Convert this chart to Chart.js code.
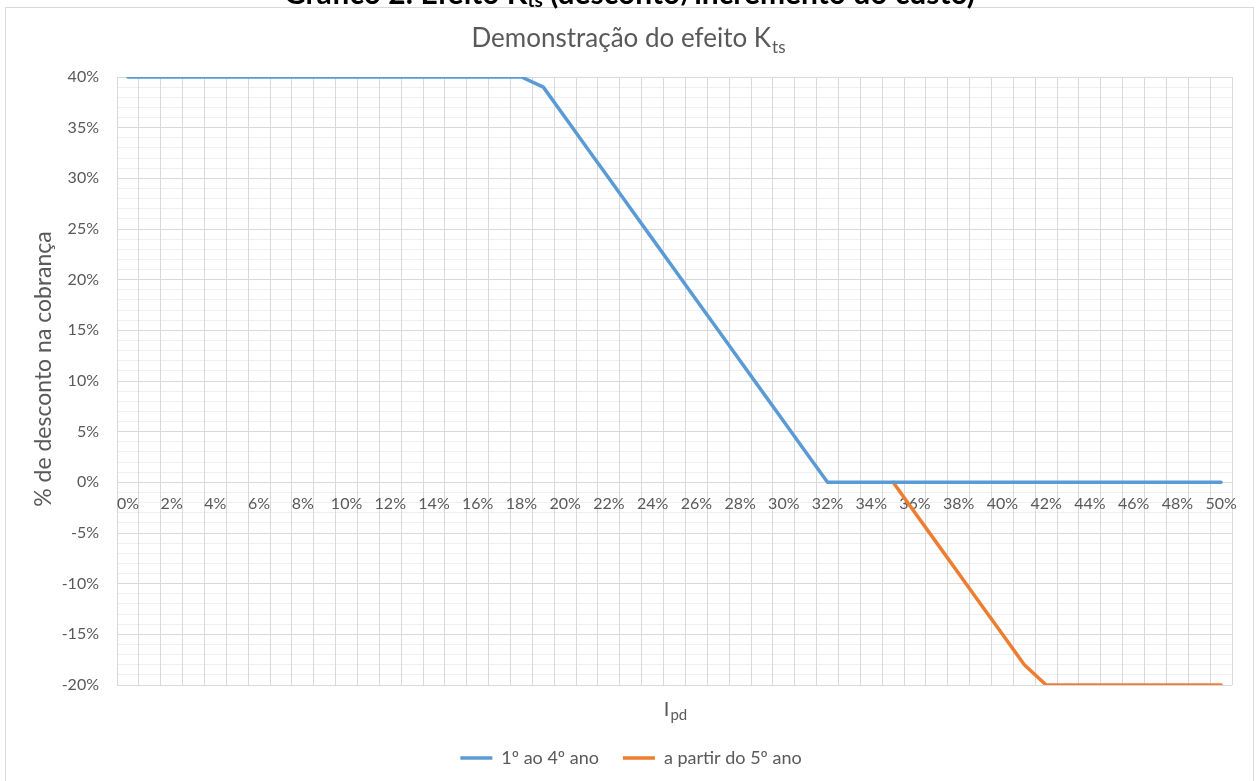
<!DOCTYPE html>
<html><head><meta charset="utf-8">
<script src="https://cdn.jsdelivr.net/npm/chart.js@4.4.1/dist/chart.umd.min.js"></script>
<style>
html,body{margin:0;padding:0;background:#fff;overflow:hidden;}
#wrap{position:relative;width:1259px;height:781px;overflow:hidden;}
canvas{position:absolute;left:0;top:0;}
#cap{position:absolute;left:0;width:1259px;top:-23px;text-align:center;font:bold 30px/30px Lato, sans-serif;color:#000;white-space:nowrap;}
#cap sub{font-size:19px;line-height:0;vertical-align:-3px;}
</style></head><body>
<div id="wrap"><canvas id="c" width="1259" height="781"></canvas><div id="cap">Gráfico 2: Efeito K<sub>ts</sub> (desconto/incremento do custo)</div></div>
<script>
const categories = ['0%','1%','2%','3%','4%','5%','6%','7%','8%','9%','10%','11%','12%','13%','14%','15%','16%','17%','18%','19%','20%','21%','22%','23%','24%','25%','26%','27%','28%','29%','30%','31%','32%','33%','34%','35%','36%','37%','38%','39%','40%','41%','42%','43%','44%','45%','46%','47%','48%','49%','50%'];
const series1Name = '1º ao 4º ano';
const series1 = [40,40,40,40,40,40,40,40,40,40,40,40,40,40,40,40,40,40,40,39,36,33,30,27,24,21,18,15,12,9,6,3,0,0,0,0,0,0,0,0,0,0,0,0,0,0,0,0,0,0,0];
const series2Name = 'a partir do 5º ano';
const series2 = [null,null,null,null,null,null,null,null,null,null,null,null,null,null,null,null,null,null,null,null,null,null,null,null,null,null,null,null,null,null,null,null,null,null,null,0,-3,-6,-9,-12,-15,-18,-20,-20,-20,-20,-20,-20,-20,-20,-20];
const chartTitle = 'Demonstração do efeito K';
const chartTitleSub = 'ts';
const xTitle = 'I';
const xTitleSub = 'pd';
const yTitle = '% de desconto na cobrança';
const yMin = -20, yMax = 40, yMajorStep = 5;

const FONT = 'Lato, "Open Sans", sans-serif';
const TXT = '#595959';
Chart.defaults.font.family = FONT;
Chart.defaults.color = TXT;

function drawSub(ctx, main, sub, cx, baseline, size, subSize) {
  ctx.font = size + 'px ' + FONT;
  const w1 = ctx.measureText(main).width;
  ctx.font = subSize + 'px ' + FONT;
  const w2 = ctx.measureText(sub).width;
  const x0 = cx - (w1 + w2) / 2;
  ctx.textAlign = 'left';
  ctx.textBaseline = 'alphabetic';
  ctx.font = size + 'px ' + FONT;
  ctx.fillText(main, x0, baseline);
  ctx.font = subSize + 'px ' + FONT;
  ctx.fillText(sub, x0 + w1 + 1, baseline + size * 0.22);
}

const textPlugin = {
  id: 'texts',
  beforeDraw(chart) {
    const ctx = chart.ctx;
    ctx.save();
    ctx.fillStyle = '#fff';
    ctx.fillRect(0, 0, chart.width, chart.height);
    ctx.strokeStyle = '#d9d9d9';
    ctx.lineWidth = 1;
    ctx.strokeRect(5.5, 7.5, 1248, 800);
    ctx.restore();
  },
  afterDraw(chart) {
    const ctx = chart.ctx;
    ctx.save();
    ctx.fillStyle = TXT;
    drawSub(ctx, chartTitle, chartTitleSub, 628, 47, 26, 17);
    drawSub(ctx, xTitle, xTitleSub, 675, 716, 20, 15);
    ctx.translate(44, 369);
    ctx.rotate(-Math.PI / 2);
    ctx.font = '23px ' + FONT;
    ctx.textAlign = 'center';
    ctx.textBaseline = 'middle';
    ctx.fillText(yTitle, 0, 0);
    ctx.restore();
  }
};

new Chart(document.getElementById('c'), {
  type: 'line',
  data: {
    labels: categories,
    datasets: [
      { label: series1Name, data: series1, borderColor: '#5B9BD5', backgroundColor: '#5B9BD5', borderWidth: 3.5, pointRadius: 0, tension: 0, borderCapStyle: 'round', borderJoinStyle: 'round', xAxisID: 'x', yAxisID: 'y' },
      { label: series2Name, data: series2, borderColor: '#ED7D31', backgroundColor: '#ED7D31', borderWidth: 3.5, pointRadius: 0, tension: 0, borderCapStyle: 'round', borderJoinStyle: 'round', xAxisID: 'x', yAxisID: 'y' }
    ]
  },
  options: {
    responsive: false,
    animation: false,
    layout: { padding: { left: 30, right: 27, top: 77, bottom: 4 } },
    plugins: {
      title: { display: false },
      tooltip: { enabled: false },
      legend: {
        display: true,
        position: 'bottom',
        labels: { usePointStyle: true, pointStyle: 'line', pointStyleWidth: 32, padding: 24, color: TXT, font: { size: 18 } }
      }
    },
    scales: {
      y: {
        min: yMin, max: yMax,
        afterFit(s) { s.width = 87; },
        ticks: {
          stepSize: 1, autoSkip: false, padding: 18, color: TXT, font: { size: 16 },
          callback: (v) => (v % yMajorStep === 0 ? v + '%' : '')
        },
        grid: {
          drawTicks: false,
          color: (c) => (c.tick && c.tick.value % yMajorStep === 0 ? '#d9d9d9' : '#f0f0f0')
        },
        border: { display: false }
      },
      x: {
        type: 'category',
        position: { y: 0 },
        offset: true,
        grid: { offset: true, color: '#d9d9d9', drawTicks: false },
        border: { display: true, color: '#d9d9d9', width: 1 },
        ticks: {
          autoSkip: false, maxRotation: 0, padding: 12, color: TXT, font: { size: 16 },
          callback: (v, i) => (i % 2 === 0 ? categories[i] : '')
        }
      },
      x2: {
        type: 'category',
        position: 'bottom',
        labels: categories,
        afterFit(s) { s.height = 40; },
        ticks: { display: false },
        grid: { display: false },
        border: { display: false }
      }
    }
  },
  plugins: [textPlugin]
});
</script>
</body></html>
